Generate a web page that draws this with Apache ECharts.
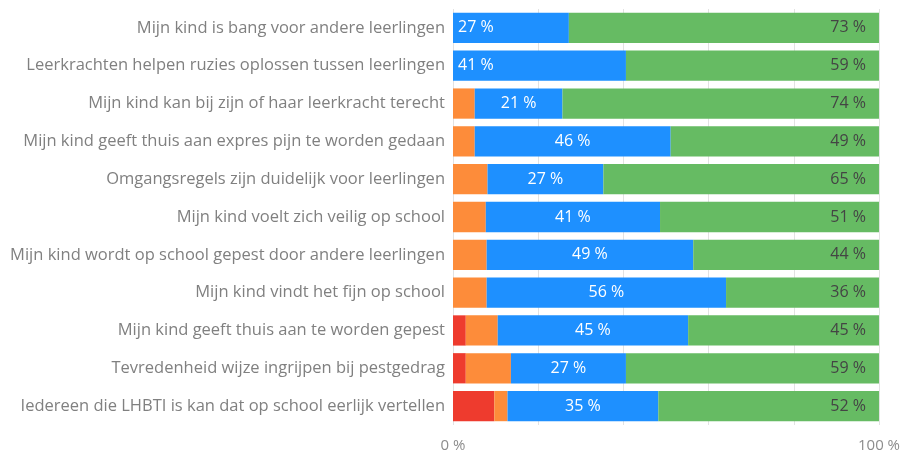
<!DOCTYPE html>
<html>
<head>
<meta charset="utf-8">
<title>Stellingen ouders</title>
<script src="https://cdn.jsdelivr.net/npm/echarts@6/dist/echarts.min.js"></script>
<style>
    html, body { margin: 0; padding: 0; background: #fff; }
    #chart { width: 903px; height: 453px; }
</style>
</head>
<body>
<div id="chart"></div>
<script>
const categories = [
    "Mijn kind is bang voor andere leerlingen",
    "Leerkrachten helpen ruzies oplossen tussen leerlingen",
    "Mijn kind kan bij zijn of haar leerkracht terecht",
    "Mijn kind geeft thuis aan expres pijn te worden gedaan",
    "Omgangsregels zijn duidelijk voor leerlingen",
    "Mijn kind voelt zich veilig op school",
    "Mijn kind wordt op school gepest door andere leerlingen",
    "Mijn kind vindt het fijn op school",
    "Mijn kind geeft thuis aan te worden gepest",
    "Tevredenheid wijze ingrijpen bij pestgedrag",
    "Iedereen die LHBTI is kan dat op school eerlijk vertellen",
];
const redValues = [0, 0, 0, 0, 0, 0, 0, 0, 3, 3, 9.7];
const orangeValues = [0, 0, 5.1, 5.1, 8.1, 7.7, 7.9, 7.9, 7.5, 10.6, 3.1];
const blueValues = [27.2, 40.6, 20.6, 46, 27.2, 40.9, 48.5, 56.2, 44.7, 27, 35.4];
const greenValues = [72.8, 59.4, 74.3, 48.9, 64.7, 51.4, 43.6, 35.9, 44.8, 59.4, 51.8];
// rows whose blue label sits at the left edge
const leftLabelRows = [0, 1];

const chart = echarts.init(document.getElementById("chart"));

const pct = (p) => Math.round(p.value) + " %";

chart.setOption({
    animation: false,
    textStyle: { fontFamily: "Open Sans" },
    grid: { left: 453, right: 22, top: 9, bottom: 25 },
    xAxis: {
        type: "value",
        min: 0,
        max: 100,
        interval: 20,
        axisLine: { show: false },
        axisTick: { show: false },
        splitLine: { lineStyle: { color: "#e2e2e2" } },
        axisLabel: {
            color: "#8c8c8c",
            fontSize: 15,
            margin: 13,
            formatter: (v) => (v === 0 || v === 100 ? v + " %" : ""),
        },
    },
    yAxis: {
        type: "category",
        inverse: true,
        data: categories,
        axisLine: { show: false },
        axisTick: { show: false },
        axisLabel: { color: "#808080", fontSize: 16.5, margin: 8 },
    },
    series: [
        {
            name: "red",
            type: "bar",
            stack: "all",
            barCategoryGap: "20%",
            itemStyle: { color: "#ee3b2e" },
            data: redValues,
        },
        {
            name: "orange",
            type: "bar",
            stack: "all",
            itemStyle: { color: "#fd8c3a" },
            data: orangeValues,
        },
        {
            name: "blue",
            type: "bar",
            stack: "all",
            itemStyle: { color: "#1e90ff" },
            label: { show: true, position: "inside", color: "#fff", fontSize: 16, formatter: pct },
            data: blueValues.map((v, i) =>
                leftLabelRows.includes(i)
                    ? { value: v, label: { position: "insideLeft", distance: 5 } }
                    : v
            ),
        },
        {
            name: "green",
            type: "bar",
            stack: "all",
            itemStyle: { color: "#66bb63" },
            label: {
                show: true,
                position: "insideRight",
                distance: 13,
                color: "#444",
                fontSize: 16,
                formatter: pct,
            },
            data: greenValues,
        },
    ],
});
</script>
</body>
</html>
